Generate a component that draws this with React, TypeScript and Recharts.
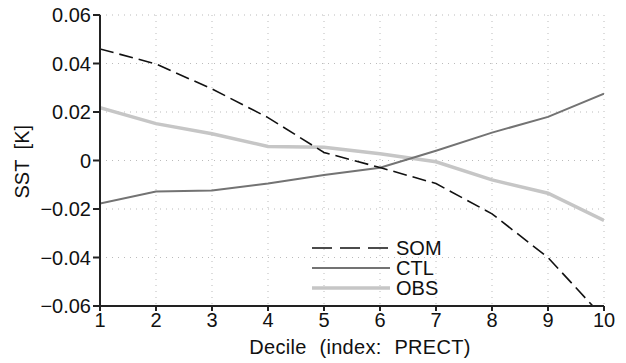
import React from "react";
import { LineChart, Line, XAxis, YAxis, CartesianGrid } from "recharts";

const deciles = [1, 2, 3, 4, 5, 6, 7, 8, 9, 10];
const som = [0.046, 0.0398, 0.0295, 0.0177, 0.0033, -0.0029, -0.0095, -0.022, -0.040, -0.065];
const ctl = [-0.0177, -0.0128, -0.0124, -0.0095, -0.006, -0.003, 0.004, 0.0115, 0.018, 0.0276];
const obs = [0.0218, 0.0152, 0.011, 0.0058, 0.0055, 0.0028, -0.0005, -0.008, -0.0135, -0.0247];
const yTicks = [-0.06, -0.04, -0.02, 0, 0.02, 0.04, 0.06];
const yTickLabels = ["\u22120.06", "\u22120.04", "\u22120.02", "0", "0.02", "0.04", "0.06"];

const data = deciles.map((d, i) => ({ d, SOM: som[i], CTL: ctl[i], OBS: obs[i] }));

const FONT = "'Liberation Sans', Arial, sans-serif";

const legendItems = [
  { name: "SOM", color: "#111", width: 1.6, dash: "20 8" },
  { name: "CTL", color: "#737373", width: 2, dash: undefined },
  { name: "OBS", color: "#c6c6c6", width: 3.5, dash: undefined },
];

export default function App() {
  return (
    <div style={{ position: "absolute", left: 0, top: 0, width: 626, height: 363, background: "#fff" }}>
      <LineChart width={626} height={363} data={data} margin={{ top: 15, right: 22, bottom: 0, left: 0 }}>
        <CartesianGrid stroke="#bbb" strokeDasharray="1 5" strokeWidth={1} />
        <XAxis
          dataKey="d"
          type="number"
          domain={[1, 10]}
          ticks={deciles}
          allowDataOverflow
          height={57}
          axisLine={{ stroke: "#222", strokeWidth: 2 }}
          tickLine={{ stroke: "#222", strokeWidth: 2 }}
          tickSize={5}
          tick={{ fontSize: 20, fontFamily: FONT, fill: "#111" }}
          label={{ value: "Decile (index: PRECT)", position: "insideBottom", offset: 9, fontSize: 20, fontFamily: FONT, fill: "#111", dx: 8, style: { wordSpacing: 7, letterSpacing: 0.3 } }}
        />
        <XAxis xAxisId="top" dataKey="d" type="number" domain={[1, 10]} orientation="top" height={0} tick={false} tickLine={false} axisLine={{ stroke: "#222", strokeWidth: 2 }} />
        <YAxis
          type="number"
          domain={[-0.06, 0.06]}
          ticks={yTicks}
          allowDataOverflow
          width={100}
          axisLine={{ stroke: "#222", strokeWidth: 2 }}
          tickLine={{ stroke: "#222", strokeWidth: 2 }}
          tickSize={7}
          tickFormatter={(v: number) => yTickLabels[yTicks.findIndex((t) => Math.abs(t - v) < 1e-9)] ?? String(v)}
          tick={{ fontSize: 20, fontFamily: FONT, fill: "#111" }}
          label={{ value: "SST [K]", angle: -90, position: "insideLeft", offset: 22, fontSize: 20, fontFamily: FONT, fill: "#111", dy: 38, style: { wordSpacing: 5 } }}
        />
        <YAxis yAxisId="right" orientation="right" type="number" domain={[-0.06, 0.06]} width={0} tick={false} tickLine={false} axisLine={{ stroke: "#222", strokeWidth: 2 }} />
        <Line dataKey="OBS" stroke="#c6c6c6" strokeWidth={3.5} dot={false} isAnimationActive={false} />
        <Line dataKey="CTL" stroke="#737373" strokeWidth={2} dot={false} isAnimationActive={false} />
        <Line dataKey="SOM" stroke="#111" strokeWidth={1.6} strokeDasharray="14 6" dot={false} isAnimationActive={false} />
      </LineChart>
      <svg width={140} height={70} style={{ position: "absolute", left: 312, top: 238, overflow: "visible" }}>
        {legendItems.map((it, i) => (
          <g key={it.name}>
            <line x1={0} x2={78} y1={10 + i * 20} y2={10 + i * 20} stroke={it.color} strokeWidth={it.width} strokeDasharray={it.dash} />
            <text x={84} y={10 + i * 20 + 7} fontSize={20} fontFamily={FONT} fill="#111">{it.name}</text>
          </g>
        ))}
      </svg>
    </div>
  );
}
